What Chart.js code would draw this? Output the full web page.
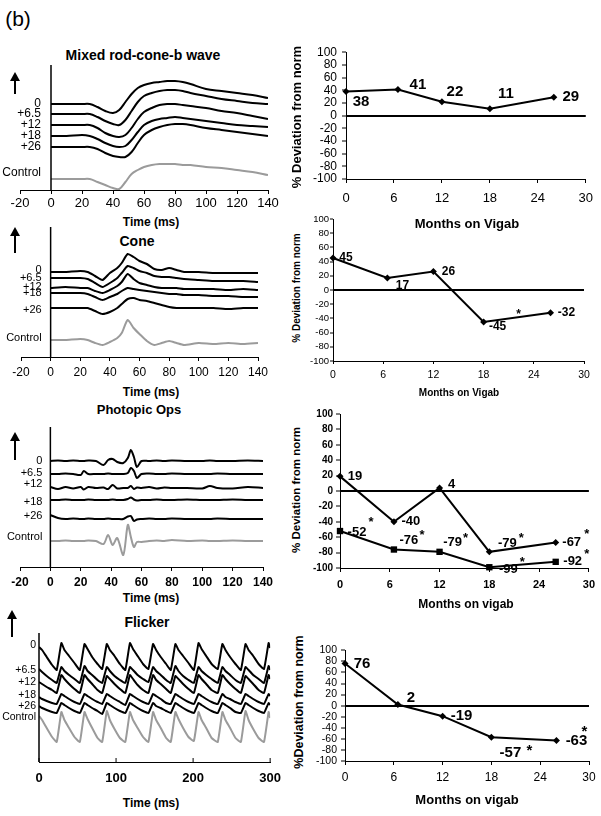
<!DOCTYPE html>
<html>
<head>
<meta charset="utf-8">
<title>ERG under vigabatrin</title>
<script src="https://cdn.jsdelivr.net/npm/chart.js@4.4.1/dist/chart.umd.min.js"></script>
<style>
  html, body { margin: 0; padding: 0; background: #fff; }
  body { position: relative; width: 601px; height: 816px; overflow: hidden; font-family: "Liberation Sans", Arial, sans-serif; color: #000; }
  canvas { position: absolute; }
  .t { position: absolute; white-space: nowrap; font-weight: bold; line-height: 1; transform: translate(-50%, -50%); }
  .v { transform: translate(-50%, -50%) rotate(-90deg); }
  .arr { position: absolute; width: 2px; background: #000; }
  .arr::before { content: ""; position: absolute; left: -4px; top: -8px; border-left: 5px solid transparent; border-right: 5px solid transparent; border-bottom: 9px solid #000; }
</style>
</head>
<body>
<div class="t" style="left:18px;top:18px;font-size:21px;font-weight:normal">(b)</div>

<!-- left column: waveforms -->
<div class="t" style="left:143px;top:55px;font-size:14px">Mixed rod-cone-b wave</div>
<div class="arr" style="left:14px;top:80px;height:14px"></div>
<canvas id="mixedTrace" width="290" height="175" style="left:0;top:40px"></canvas>
<div class="t" style="left:151px;top:222px;font-size:12px">Time (ms)</div>

<div class="t" style="left:137px;top:241px;font-size:14px">Cone</div>
<div class="arr" style="left:14px;top:235px;height:18px"></div>
<canvas id="coneTrace" width="290" height="165" style="left:0;top:215px"></canvas>
<div class="t" style="left:151px;top:392px;font-size:12px">Time (ms)</div>

<div class="t" style="left:139px;top:409px;font-size:13px">Photopic Ops</div>
<div class="arr" style="left:14px;top:440px;height:20px"></div>
<canvas id="opsTrace" width="290" height="170" style="left:0;top:420px"></canvas>
<div class="t" style="left:151px;top:598px;font-size:12px">Time (ms)</div>

<div class="t" style="left:147px;top:622px;font-size:14px">Flicker</div>
<div class="arr" style="left:11px;top:618px;height:19px"></div>
<canvas id="flickerTrace" width="290" height="165" style="left:0;top:625px"></canvas>
<div class="t" style="left:151px;top:803px;font-size:12px">Time (ms)</div>

<!-- right column: % deviation -->
<div class="t v" style="left:296px;top:117px;font-size:13px">% Deviation from norm</div>
<canvas id="mixedDevChart" width="306" height="175" style="left:295px;top:40px"></canvas>
<div class="t" style="left:467px;top:223px;font-size:13px">Months on Vigab</div>

<div class="t v" style="left:297px;top:288px;font-size:10px">% Deviation from norm</div>
<canvas id="coneDevChart" width="306" height="190" style="left:295px;top:212px"></canvas>
<div class="t" style="left:459px;top:393px;font-size:10px">Months on Vigab</div>

<div class="t v" style="left:297px;top:490px;font-size:11.5px">% Deviation from norm</div>
<canvas id="opsDevChart" width="306" height="200" style="left:295px;top:405px"></canvas>
<div class="t" style="left:466px;top:604px;font-size:12px">Months on vigab</div>

<div class="t v" style="left:299px;top:702px;font-size:12.5px">%Deviation from norm</div>
<canvas id="flickerDevChart" width="306" height="170" style="left:295px;top:640px"></canvas>
<div class="t" style="left:467px;top:799px;font-size:13px">Months on vigab</div>

<script>
Chart.defaults.font.family = '"Liberation Sans", Arial, sans-serif';
Chart.defaults.color = '#000';

const traceNames = ['0', '+6.5', '+12', '+18', '+26', 'Control'];
const visitMonths = [0, 6.5, 12, 18, 26];

// mixed rod-cone b-wave, trace height above the time axis (arb. units)
const mixedTime = [0, 10, 20, 25, 30, 35, 40, 44, 48, 52, 56, 60, 65, 70, 75, 80, 85, 90, 100, 110, 120, 130, 140];
const mixed0    = [86, 86, 86, 86, 83, 79, 77, 80, 88, 96, 102, 105, 107, 108, 109, 109, 108, 106, 101, 99, 97, 95, 92];
const mixed65   = [76, 76, 76, 76, 73, 69, 66, 65, 70, 79, 88, 94, 97, 99, 100, 100, 99, 97, 94, 91, 89, 87, 86];
const mixed12   = [65, 65, 65, 65, 62, 57, 54, 53, 55, 62, 71, 78, 82, 85, 86, 86, 85, 84, 82, 79, 77, 74, 71];
const mixed18   = [54, 54, 55, 54, 51, 47, 44, 43, 44, 50, 58, 65, 69, 71, 72, 73, 72, 71, 69, 67, 65, 64, 63];
const mixed26   = [43, 43, 43, 43, 41, 37, 34, 33, 33, 38, 47, 55, 60, 63, 65, 66, 66, 65, 62, 60, 58, 56, 54];
const mixedCtrl = [11, 11, 11, 11, 8, 5, 2, 1, 8, 16, 20, 23, 25, 26, 26, 26, 25, 25, 23, 22, 20, 18, 15];

// cone response
const coneTime = [0, 10, 20, 25, 30, 35, 40, 45, 48, 52, 56, 60, 65, 70, 75, 80, 85, 90, 100, 110, 120, 130, 140];
const cone0    = [85, 85, 86, 85, 81, 77, 84, 89, 94, 103, 100, 96, 93, 88, 87, 89, 87, 85, 85, 84, 84, 84, 84];
const cone65   = [79, 79, 79, 78, 74, 70, 74, 79, 84, 91, 89, 86, 84, 81, 80, 80, 79, 78, 77, 76, 76, 76, 75];
const cone12   = [69, 70, 69, 69, 66, 64, 67, 71, 75, 83, 78, 74, 72, 70, 69, 69, 69, 68, 68, 68, 67, 68, 67];
const cone18   = [64, 64, 64, 63, 60, 57, 60, 63, 66, 69, 68, 67, 66, 65, 64, 63, 63, 62, 62, 61, 61, 60, 60];
const cone26   = [49, 49, 49, 49, 46, 43, 45, 49, 53, 58, 59, 57, 56, 54, 52, 50, 49, 49, 49, 49, 48, 49, 49];
const coneCtrl = [17, 17, 18, 17, 14, 12, 15, 19, 24, 37, 29, 23, 16, 12, 14, 16, 14, 12, 14, 13, 14, 13, 14];

// photopic oscillatory potentials
const opsTime = [0, 5, 10, 15, 20, 22, 25, 30, 35, 38, 41, 44, 48, 51, 53, 55, 57, 60, 65, 70, 75, 80, 90, 100, 105, 110, 120, 130, 140];
const ops0    = [106, 106.5, 106, 106.5, 106, 106, 106.5, 106, 102, 107, 108, 105, 104, 109, 117, 110, 100, 106, 106, 106.5, 106, 106.5, 106, 106, 106.5, 106, 106, 106.5, 106];
const ops65   = [93, 93, 93.5, 93, 92, 96, 93, 93, 93, 93.5, 93, 93, 93, 94, 99, 96, 89, 93, 93.5, 93, 93, 93.5, 93, 93, 93, 93.5, 93, 93, 93];
const ops12   = [80, 78, 80, 78.5, 80, 77.5, 80, 79, 79.5, 78, 82, 78.5, 79, 79, 81, 78, 79.5, 79, 80, 78.5, 79.5, 79, 79, 78.5, 81, 79, 78.5, 80, 79];
const ops18   = [67, 67, 67.5, 67, 67, 67, 67.5, 67, 67, 67, 67.5, 67, 67, 68, 69.5, 67.5, 66.5, 67, 67, 67.5, 67, 67, 67.5, 67, 67, 67, 67.5, 67, 67];
const ops26   = [52, 49, 48, 48.5, 48, 48, 48.5, 48, 48, 48.5, 48, 48, 48, 50.5, 51, 46, 47.5, 48, 48.5, 48, 48, 48.5, 48, 48, 48, 48.5, 48, 48, 48];
const opsCtrl = [26, 26, 26.5, 26, 26, 26, 26.5, 26, 23, 32, 22, 29, 12, 42, 30, 20, 25, 25, 26, 26.5, 26, 27, 26, 26.5, 26, 26, 26.5, 26, 26];

// 30 Hz flicker
const flickerTime = [0, 4, 10, 17, 23, 29, 33, 39, 46, 53, 59, 63, 69, 76, 82, 88, 92, 98, 105, 112, 118, 122, 128, 135,
  142, 148, 152, 158, 165, 171, 177, 181, 187, 194, 201, 207, 211, 217, 224, 232, 238, 242, 248, 255, 262, 268, 272, 278, 285, 292, 298, 300];
const flicker0    = [115, 112, 105, 97, 92, 119, 112, 106, 99, 92, 118, 113, 105, 98, 93, 118, 112, 106, 98, 92, 119, 113, 106, 98,
  93, 118, 112, 105, 98, 92, 118, 112, 106, 99, 92, 119, 113, 106, 98, 93, 118, 112, 105, 98, 92, 118, 112, 106, 98, 93, 119, 114];
const flicker65   = [93, 90, 86, 82, 79, 95, 91, 87, 83, 79, 96, 91, 87, 82, 79, 95, 91, 86, 82, 79, 95, 92, 87, 83,
  80, 95, 91, 87, 82, 79, 96, 91, 86, 82, 79, 95, 91, 87, 83, 79, 95, 91, 87, 82, 79, 95, 92, 87, 83, 79, 96, 92];
const flicker12   = [80, 78, 75, 72, 69, 87, 83, 78, 73, 69, 87, 83, 78, 72, 69, 86, 83, 78, 73, 69, 87, 83, 77, 72,
  69, 87, 82, 78, 73, 69, 86, 83, 78, 73, 69, 87, 83, 78, 72, 69, 87, 83, 78, 73, 69, 86, 83, 78, 72, 69, 87, 83];
const flicker18   = [65, 63, 61, 59, 58, 68, 66, 63, 60, 58, 68, 66, 63, 60, 58, 68, 66, 63, 60, 57, 68, 66, 63, 60,
  58, 68, 66, 63, 59, 58, 68, 66, 63, 60, 58, 68, 66, 63, 60, 58, 68, 65, 63, 60, 58, 68, 66, 63, 60, 58, 68, 66];
const flicker26   = [56, 54, 52, 50, 49, 59, 57, 54, 51, 49, 59, 57, 54, 51, 48, 59, 57, 54, 51, 49, 59, 57, 54, 51,
  49, 59, 56, 54, 51, 49, 59, 57, 54, 51, 49, 59, 57, 54, 51, 49, 59, 57, 54, 50, 49, 59, 57, 54, 51, 49, 59, 57];
const flickerCtrl = [46, 42, 34, 25, 20, 50, 42, 34, 25, 20, 50, 43, 34, 24, 20, 51, 42, 33, 24, 20, 50, 42, 34, 25,
  20, 50, 42, 34, 24, 20, 50, 43, 34, 25, 21, 50, 42, 34, 24, 20, 50, 42, 34, 24, 20, 51, 42, 33, 24, 20, 50, 44];

// % deviation from norm at each visit
const mixedDev   = [38, 41, 22, 11, 29];
const coneDev    = [45, 17, 26, -45, -32];
const opsDev     = [19, -40, 4, -79, -67];
const opsDev2    = [-52, -76, -79, -99, -92];
const flickerDev = [76, 2, -19, -57, -63];

const FONT = '"Liberation Sans", Arial, sans-serif';

function toPoints(xs, ys) {
  return xs.map((x, i) => ({ x, y: ys[i] }));
}

// y axis line at t = 0 plus trace names on the left
function traceDecor(look) {
  return {
    id: 'traceDecor',
    afterDraw(chart) {
      const { ctx, chartArea, scales: { x, y } } = chart;
      const x0 = x.getPixelForValue(0);
      ctx.save();
      ctx.strokeStyle = '#000';
      ctx.lineWidth = 1.5;
      ctx.beginPath();
      ctx.moveTo(x0, chartArea.top);
      ctx.lineTo(x0, chartArea.bottom);
      ctx.stroke();
      if (look.innerTicks) {
        ctx.lineWidth = 1;
        x.ticks.forEach(tk => {
          const px = x.getPixelForValue(tk.value);
          ctx.beginPath();
          ctx.moveTo(px, chartArea.bottom);
          ctx.lineTo(px, chartArea.bottom - 4);
          ctx.stroke();
        });
      }
      ctx.font = look.labelFont;
      ctx.fillStyle = '#000';
      ctx.textAlign = 'right';
      ctx.textBaseline = 'middle';
      chart.data.datasets.forEach((ds, i) => {
        const py = y.getPixelForValue(ds.data[0].y) + (look.labelShift[i] || 0);
        ctx.fillText(ds.label, x0 - look.labelGap, py);
      });
      ctx.restore();
    }
  };
}

function traceChart(id, time, traces, look) {
  return new Chart(document.getElementById(id), {
    type: 'line',
    data: {
      datasets: traces.map((vals, i) => ({
        label: traceNames[i],
        data: toPoints(time, vals),
        borderColor: i === 5 ? '#9b9b9b' : '#000',
        borderWidth: look.line,
        pointRadius: 0,
        tension: look.tension,
        fill: false
      }))
    },
    options: {
      responsive: false,
      animation: false,
      events: [],
      layout: { padding: look.pad },
      plugins: { legend: { display: false }, tooltip: { enabled: false } },
      scales: {
        x: {
          type: 'linear', min: look.xmin, max: look.xmax,
          ticks: { stepSize: look.step, font: look.tickFont, color: '#000', padding: look.tickPad, maxRotation: 0, autoSkip: false },
          grid: { drawOnChartArea: false, drawTicks: !look.innerTicks, tickLength: 4, tickColor: '#000' },
          border: { color: '#000', width: 1 },
          afterFit: s => { s.height = look.xHeight; }
        },
        y: { display: false, min: 0, max: look.ymax }
      }
    },
    plugins: [traceDecor(look)]
  });
}

// value labels and asterisks next to the points
function pointText(items, font) {
  return {
    id: 'pointText',
    afterDatasetsDraw(chart) {
      const ctx = chart.ctx;
      ctx.save();
      ctx.font = font;
      ctx.fillStyle = '#000';
      ctx.textAlign = 'center';
      ctx.textBaseline = 'middle';
      items.forEach(it => {
        const el = chart.getDatasetMeta(it.s).data[it.i];
        ctx.fillText(it.t, el.x + it.dx, el.y + it.dy);
      });
      ctx.restore();
    }
  };
}

function devChart(id, series, items, look) {
  return new Chart(document.getElementById(id), {
    type: 'line',
    data: {
      datasets: series.map(s => ({
        data: toPoints(visitMonths, s.values),
        borderColor: '#000',
        backgroundColor: '#000',
        borderWidth: look.line,
        pointStyle: s.marker,
        pointRadius: s.radius,
        pointBorderWidth: 0,
        tension: 0,
        fill: false,
        clip: false
      }))
    },
    options: {
      responsive: false,
      animation: false,
      events: [],
      layout: { padding: { top: look.padTop, right: look.padRight, left: 0, bottom: 0 } },
      plugins: { legend: { display: false }, tooltip: { enabled: false } },
      scales: {
        x: {
          type: 'linear', min: 0, max: 30,
          ticks: { stepSize: 6, font: look.xFont, color: '#000', padding: look.xPad, maxRotation: 0, autoSkip: false },
          grid: { drawOnChartArea: false, tickLength: look.tickLen, tickColor: '#000', tickWidth: 1 },
          border: { color: '#000', width: 1 },
          afterFit: s => { s.height = look.xHeight; }
        },
        y: {
          min: -100, max: 100,
          ticks: { stepSize: 20, font: look.yFont, color: '#000', padding: look.yPad, autoSkip: false },
          grid: {
            color: c => (c.tick && c.tick.value === 0 ? '#000' : 'rgba(0,0,0,0)'),
            lineWidth: c => (c.tick && c.tick.value === 0 ? look.zeroWidth : 0),
            tickLength: look.tickLen, tickColor: '#000', tickWidth: 1
          },
          border: { color: '#000', width: 1 },
          afterFit: s => { s.width = look.yWidth; }
        }
      }
    },
    plugins: [pointText(items, look.labelFont)]
  });
}

// ---- left column ----
traceChart('mixedTrace', mixedTime, [mixed0, mixed65, mixed12, mixed18, mixed26, mixedCtrl], {
  xmin: -20, xmax: 140, step: 20, ymax: 125,
  pad: { left: 20, top: 25, right: 22, bottom: 0 }, xHeight: 25,
  tickFont: { size: 13 }, tickPad: 2, line: 2, tension: 0.35,
  labelFont: '12px ' + FONT, labelGap: 10, labelShift: [0, 0, 0, 0, 0, -6]
});

traceChart('coneTrace', coneTime, [cone0, cone65, cone12, cone18, cone26, coneCtrl], {
  xmin: -20, xmax: 140, step: 20, ymax: 130,
  pad: { left: 21, top: 12, right: 32, bottom: 0 }, xHeight: 23,
  tickFont: { size: 12 }, tickPad: 4, line: 2, tension: 0.2,
  labelFont: '11px ' + FONT, labelGap: 9, labelShift: [-2, 0, -1, 0, 2, -2]
});

traceChart('opsTrace', opsTime, [ops0, ops65, ops12, ops18, ops26, opsCtrl], {
  xmin: -20, xmax: 140, step: 20, ymax: 140,
  pad: { left: 20, top: 7, right: 27, bottom: 0 }, xHeight: 23,
  tickFont: { size: 12, weight: 'bold' }, tickPad: 4, line: 2, tension: 0.3,
  labelFont: '11px ' + FONT, labelGap: 8, labelShift: [0, -1, -3, 2, 1, -4]
});

traceChart('flickerTrace', flickerTime, [flicker0, flicker65, flicker12, flicker18, flicker26, flickerCtrl], {
  xmin: 0, xmax: 300, step: 100, ymax: 129, innerTicks: true,
  pad: { left: 39, top: 8, right: 18, bottom: 0 }, xHeight: 28,
  tickFont: { size: 13, weight: 'bold' }, tickPad: 9, line: 2, tension: 0.12,
  labelFont: '10.5px ' + FONT, labelGap: 3, labelShift: [-2, 1, 0, -2, 0, 1]
});

// ---- right column ----
const diamond = values => ({ values, marker: 'rectRot', radius: 3.5 });

devChart('mixedDevChart', [diamond(mixedDev)], [
  { s: 0, i: 0, t: '38', dx: 15, dy: 10 },
  { s: 0, i: 1, t: '41', dx: 20, dy: -5 },
  { s: 0, i: 2, t: '22', dx: 13, dy: -10 },
  { s: 0, i: 3, t: '11', dx: 16, dy: -15 },
  { s: 0, i: 4, t: '29', dx: 17, dy: 0 }
], {
  yWidth: 51, xHeight: 36, padTop: 12, padRight: 14,
  yFont: { size: 12 }, xFont: { size: 13 }, tickLen: 4, yPad: 5, xPad: 8,
  line: 2, zeroWidth: 2, labelFont: 'bold 15px ' + FONT
});

devChart('coneDevChart', [diamond(coneDev)], [
  { s: 0, i: 0, t: '45', dx: 13, dy: 0 },
  { s: 0, i: 1, t: '17', dx: 15, dy: 8 },
  { s: 0, i: 2, t: '26', dx: 15, dy: 0 },
  { s: 0, i: 3, t: '-45', dx: 14, dy: 5 },
  { s: 0, i: 3, t: '*', dx: 35, dy: -7 },
  { s: 0, i: 4, t: '-32', dx: 16, dy: 0 }
], {
  yWidth: 38, xHeight: 41, padTop: 7, padRight: 17,
  yFont: { size: 9.5 }, xFont: { size: 10.5 }, tickLen: 3, yPad: 1, xPad: 5,
  line: 2, zeroWidth: 2, labelFont: 'bold 12px ' + FONT
});

devChart('opsDevChart', [diamond(opsDev), { values: opsDev2, marker: 'rect', radius: 4.5 }], [
  { s: 0, i: 0, t: '19', dx: 15, dy: 0 },
  { s: 0, i: 1, t: '-40', dx: 17, dy: 0 },
  { s: 0, i: 2, t: '4', dx: 12, dy: -3 },
  { s: 0, i: 3, t: '-79', dx: 18, dy: -8 },
  { s: 0, i: 3, t: '*', dx: 32, dy: -13 },
  { s: 0, i: 4, t: '-67', dx: 16, dy: 0 },
  { s: 0, i: 4, t: '*', dx: 31, dy: -8 },
  { s: 1, i: 0, t: '-52', dx: 17, dy: 1 },
  { s: 1, i: 0, t: '*', dx: 31, dy: -9 },
  { s: 1, i: 1, t: '-76', dx: 15, dy: -9 },
  { s: 1, i: 1, t: '*', dx: 28, dy: -14 },
  { s: 1, i: 2, t: '-79', dx: 13, dy: -9 },
  { s: 1, i: 2, t: '*', dx: 26, dy: -13 },
  { s: 1, i: 3, t: '-99', dx: 19, dy: 2 },
  { s: 1, i: 3, t: '*', dx: 33, dy: -5 },
  { s: 1, i: 4, t: '-92', dx: 17, dy: 0 },
  { s: 1, i: 4, t: '*', dx: 31, dy: -7 }
], {
  yWidth: 45, xHeight: 37, padTop: 8, padRight: 12,
  yFont: { size: 10, weight: 'bold' }, xFont: { size: 11, weight: 'bold' }, tickLen: 4, yPad: 3, xPad: 6,
  line: 2, zeroWidth: 2, labelFont: 'bold 13px ' + FONT
});

devChart('flickerDevChart', [diamond(flickerDev)], [
  { s: 0, i: 0, t: '76', dx: 17, dy: 0 },
  { s: 0, i: 1, t: '2', dx: 13, dy: -7 },
  { s: 0, i: 2, t: '-19', dx: 19, dy: 0 },
  { s: 0, i: 3, t: '-57', dx: 19, dy: 16 },
  { s: 0, i: 3, t: '*', dx: 38, dy: 14 },
  { s: 0, i: 4, t: '-63', dx: 20, dy: 0 },
  { s: 0, i: 4, t: '*', dx: 28, dy: -9 }
], {
  yWidth: 50, xHeight: 49, padTop: 8, padRight: 12,
  yFont: { size: 10.5 }, xFont: { size: 12 }, tickLen: 4, yPad: 4, xPad: 5,
  line: 2, zeroWidth: 2, labelFont: 'bold 15px ' + FONT
});
</script>
</body>
</html>
